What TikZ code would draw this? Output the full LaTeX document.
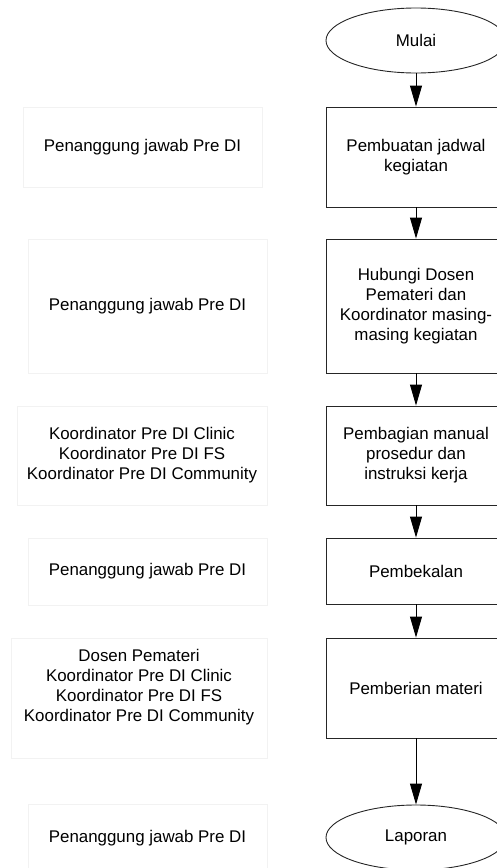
\documentclass[tikz,border=0pt]{standalone}
\usepackage{fontspec}
\setmainfont{Liberation Sans}
\usetikzlibrary{shapes.geometric, arrows.meta}

\begin{document}
\begin{tikzpicture}[x = 1pt, y = -1pt,
		every node/.style = {font = \fontsize{16.9}{20}\selectfont, align = center},
		stepbox/.style = {draw = black!85, line width = 0.9pt, minimum width = 180pt, inner sep = 0pt},
		endbox/.style = {ellipse, draw = black!85, line width = 0.9pt, minimum width = 180pt, minimum height = 65pt, inner sep = 0pt},
		whobox/.style = {draw = black!5, line width = 0.8pt, inner sep = 0pt},
		arrow/.style = {-{Triangle[length = 21pt, width = 12pt]}, line width = 0.9pt}]
							\useasboundingbox (0,0) rectangle (497,868);
				
							% alur kegiatan
							\node [endbox] (mulai) at (416,40.5) {Mulai};
							\node [stepbox, minimum height = 100pt] (b1) at (416,157) {Pembuatan jadwal\\kegiatan};
							\node [stepbox, minimum height = 134pt] (b2) at (416,306) {Hubungi Dosen\\Pemateri dan\\Koordinator masing-\\masing kegiatan};
							\node [stepbox, minimum height = 99pt] (b3) at (416,455.5) {Pembagian manual\\prosedur dan\\instruksi kerja};
							\node [stepbox, minimum height = 66pt] (b4) at (416,571) {Pembekalan};
							\node [stepbox, minimum height = 100pt] (b5) at (416,688) {Pemberian materi};
							\node [endbox] (laporan) at (416,837.5) {Laporan};
				
							\foreach \a/\b in {mulai/b1, b1/b2, b2/b3, b3/b4, b4/b5, b5/laporan}
							{
								\draw [arrow] (\a.south) -- (\b.north);
							}
				
							% penanggung jawab
							\node [whobox, minimum width = 239pt, minimum height = 80pt] (l1) at (142.5,147) {Penanggung jawab Pre DI};
							\node [whobox, minimum width = 239pt, minimum height = 134pt] (l2) at (147.5,306) {Penanggung jawab Pre DI};
							\node [whobox, minimum width = 250pt, minimum height = 99pt] (l3) at (142,455.5) {Koordinator Pre DI Clinic\\Koordinator Pre DI FS\\Koordinator Pre DI Community};
							\node [whobox, minimum width = 239pt, minimum height = 67pt] (l4) at (147.5,571.5) {Penanggung jawab Pre DI};
							\node [whobox, minimum width = 256pt, minimum height = 120pt] (l5) at (139,698) {};
							\node (t5) at (139,687) {Dosen Pemateri\\Koordinator Pre DI Clinic\\Koordinator Pre DI FS\\Koordinator Pre DI Community};
							\node [whobox, minimum width = 239pt, minimum height = 68pt] (l6) at (147.5,838) {Penanggung jawab Pre DI};
\end{tikzpicture}
\end{document}
